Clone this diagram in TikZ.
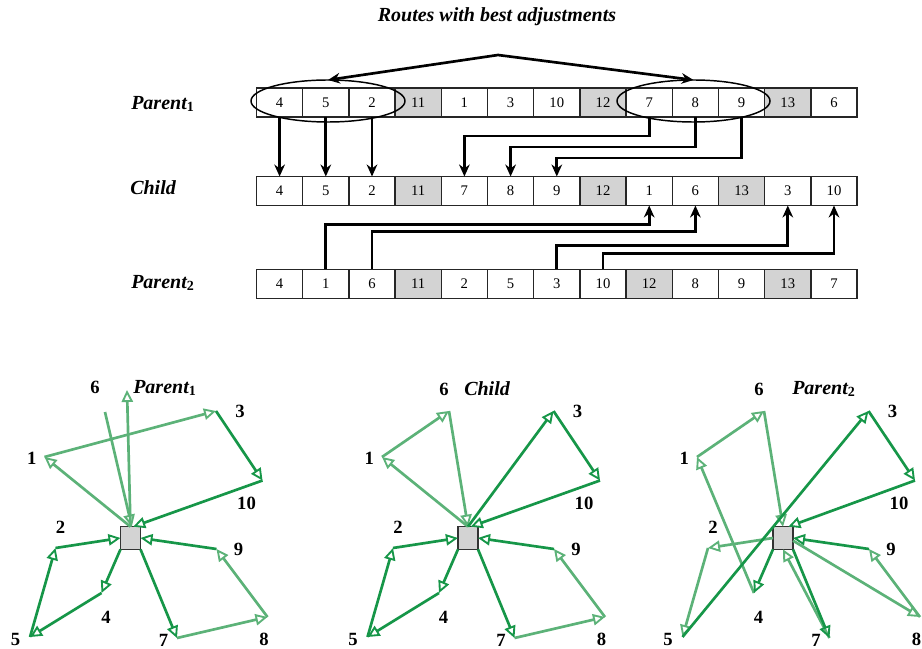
\documentclass[tikz,border=0pt]{standalone}
\usepackage{fontspec}
\setmainfont{Liberation Serif}
\usetikzlibrary{arrows.meta,shapes.geometric}
\definecolor{dkg}{RGB}{22,150,72}
\definecolor{ltg}{RGB}{92,178,120}
\definecolor{cellgray}{RGB}{211,211,211}
\begin{document}
\begin{tikzpicture}[x=0.75pt,y=-0.75pt,
  cell/.style={draw=black!85, line width=1.1pt, minimum width=34.65pt, minimum height=21.75pt, inner sep=0pt, outer sep=0pt, font=\fontsize{11}{12}\selectfont},
  rowlab/.style={anchor=west, inner sep=0pt, font=\fontsize{15}{18}\selectfont\bfseries\itshape},
  blk/.style={line width=2pt, -{Stealth[length=9pt,width=8pt]}},
  blk2/.style={line width=2pt, {Stealth[length=9pt,width=8pt]}-{Stealth[length=9pt,width=8pt]}},
  ring/.style={draw, ellipse, line width=1.1pt, inner sep=0pt, outer sep=0pt},
  gr/.style={line width=2pt, -{Triangle[open,length=9pt,width=8.5pt,line width=1.4pt]}},
  dk/.style={gr, draw=dkg},
  lt/.style={gr, draw=ltg},
  num/.style={inner sep=0pt, font=\fontsize{14}{16}\selectfont\bfseries},
  depot/.style={draw=black!80, fill=cellgray, line width=1.2pt, minimum width=15pt, minimum height=17pt, inner sep=0pt, outer sep=0pt}
]
\useasboundingbox (0,0) rectangle (922,649);

% title
\node[font=\fontsize{15}{18}\selectfont\bfseries\itshape] (title) at (497,17) {Routes with best adjustments};

% row labels
\node[rowlab] (lp1) at (131,104) {Parent\textsubscript{\upshape 1}};
\node[rowlab] (lch) at (130,188) {Child};
\node[rowlab] (lp2) at (131,283) {Parent\textsubscript{\upshape 2}};

% rows
\foreach \v [count=\i] in {4,5,2,11,1,3,10,12,7,8,9,13,6} {
  \ifnum\v>10 \def\fc{cellgray}\else\def\fc{white}\fi
  \node[cell, fill=\fc] (pa\i) at (233.4+\i*46.2, 102.5) {\v};
}
\foreach \v [count=\i] in {4,5,2,11,7,8,9,12,1,6,13,3,10} {
  \ifnum\v>10 \def\fc{cellgray}\else\def\fc{white}\fi
  \node[cell, fill=\fc] (ch\i) at (233.4+\i*46.2, 191) {\v};
}
\foreach \v [count=\i] in {4,1,6,11,2,5,3,10,12,8,9,13,7} {
  \ifnum\v>10 \def\fc{cellgray}\else\def\fc{white}\fi
  \node[cell, fill=\fc] (pb\i) at (233.4+\i*46.2, 284) {\v};
}

% ellipses and swap arrow
\node[ring, minimum width=115.5pt, minimum height=31.5pt] (e1) at (328,101) {};
\node[ring, minimum width=114.75pt, minimum height=31.5pt] (e2) at (693.5,101) {};
\coordinate (peak) at (498,55);
\draw[blk2] (e1.north) -- (peak) -- (e2.north);

% parent1 -> child
\foreach \i in {1,2,3} \draw[blk] (pa\i.south) -- (ch\i.north);
\draw[blk] (pa9.south) -- ++(0,19) -| (ch5.north);
\draw[blk] (pa10.south) -- ++(0,30) -| (ch6.north);
\draw[blk] (pa11.south) -- ++(0,41) -| (ch7.north);
% parent2 -> child
\draw[blk] (pb2.north) -- ++(0,-45) -| (ch9.south);
\draw[blk] (pb3.north) -- ++(0,-38) -| (ch10.south);
\draw[blk] (pb7.north) -- ++(0,-24) -| (ch12.south);
\draw[blk] (pb8.north) -- ++(0,-16) -| (ch13.south);

% bottom panels: depots, points, labels
\foreach \p/\cx/\sx/\sy in {A/130.5/-35.5/387, B/468/-24/389, C/783/-24/389} {
  \node[depot] (d\p) at (\cx,538) {};
  \coordinate (\p1) at (\cx-86,457);
  \coordinate (\p3) at (\cx+85.5,411);
  \coordinate (\p10) at (\cx+132,480.5);
  \coordinate (\p6) at (\cx-19,411);
  \coordinate (\p2) at (\cx-75,548);
  \coordinate (\p5) at (\cx-100.5,637);
  \coordinate (\p4) at (\cx-29,593);
  \coordinate (\p7) at (\cx+46.5,638);
  \coordinate (\p8) at (\cx+137,617);
  \coordinate (\p9) at (\cx+86,549);
  \node[num] (l\p1) at (\cx-98.8,458) {1};
  \node[num] (l\p3) at (\cx+109.5,411.5) {3};
  \node[num] (l\p10) at (\cx+116,503) {10};
  \node[num] (l\p6) at (\cx+\sx,\sy) {6};
  \node[num] (l\p2) at (\cx-70,527) {2};
  \node[num] (l\p5) at (\cx-115,639) {5};
  \node[num] (l\p4) at (\cx-24.5,617.5) {4};
  \node[num] (l\p7) at (\cx+33,640) {7};
  \node[num] (l\p8) at (\cx+133.5,639) {8};
  \node[num] (l\p9) at (\cx+108,549) {9};
}
\node[rowlab] (tA) at (133,388) {Parent\textsubscript{\upshape 1}};
\node[rowlab] (tB) at (464,389) {Child};
\node[rowlab] (tC) at (792,389) {Parent\textsubscript{\upshape 2}};

% panel A (Parent1)
\coordinate (A6s) at (105,412);
\coordinate (Aup) at (127,390);
\draw[lt] (dA.north) -- (A1);
\draw[lt] (A1) -- (A3);
\draw[lt] (A6s) -- ([xshift=1pt]dA.north);
\draw[lt] (dA.north) -- (Aup);
\draw[lt] (A7) -- (A8);
\draw[lt] (A8) -- (A9);
\draw[dk] (A3) -- (A10);
\draw[dk] (A10) -- ([xshift=2pt]dA.north);
\draw[dk] (dA.south west) -- (A4);
\draw[dk] (A4) -- (A5);
\draw[dk] (A5) -- (A2);
\draw[dk] (A2) -- (dA.west);
\draw[dk] (dA.south east) -- (A7);
\draw[dk] (A9) -- (dA.east);

% panel B (Child)
\draw[lt] (dB.north) -- (B1);
\draw[lt] (B1) -- (B6);
\draw[lt] (B6) -- (dB.north);
\draw[lt] (B7) -- (B8);
\draw[lt] (B8) -- (B9);
\draw[dk] (dB.north) -- (B3);
\draw[dk] (B3) -- (B10);
\draw[dk] (B10) -- ([xshift=2pt]dB.north);
\draw[dk] (dB.south west) -- (B4);
\draw[dk] (B4) -- (B5);
\draw[dk] (B5) -- (B2);
\draw[dk] (B2) -- (dB.west);
\draw[dk] (dB.south east) -- (B7);
\draw[dk] (B9) -- (dB.east);

% panel C (Parent2)
\draw[lt] (C4) -- (C1);
\draw[lt] (C1) -- (C6);
\draw[lt] (C6) -- (dC.north);
\draw[lt] (dC.west) -- (C2);
\draw[lt] (C2) -- (C5);
\draw[lt] ([yshift=-2pt]dC.east) -- (C8);
\draw[lt] (C8) -- (C9);
\draw[lt] (C7) -- (dC.south);
\draw[dk] (C5) -- (C3);
\draw[dk] (C3) -- (C10);
\draw[dk] (C10) -- ([xshift=4pt]dC.north);
\draw[dk] (C9) -- (dC.east);
\draw[dk] (dC.south west) -- (C4);
\draw[dk] (dC.south east) -- (C7);
\end{tikzpicture}
\end{document}
